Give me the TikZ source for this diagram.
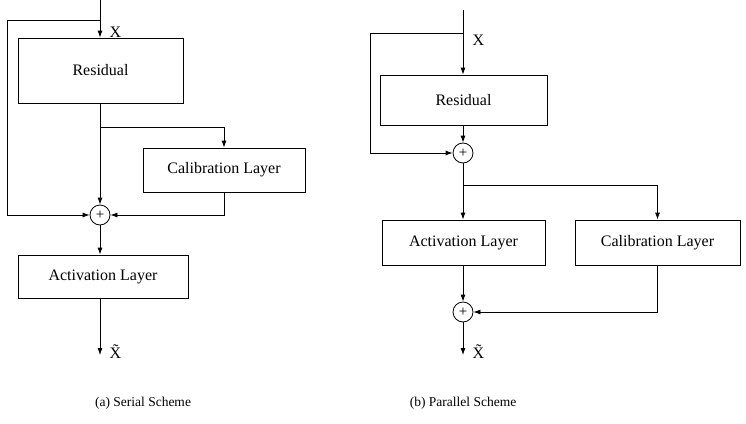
\documentclass[tikz,border=0pt]{standalone}
\usepackage{fontspec}
\setmainfont{Liberation Serif}
\usetikzlibrary{arrows.meta}
\begin{document}
\begin{tikzpicture}[x=1pt,y=-1pt,
  box/.style={draw,thick,minimum height=0pt,inner sep=0pt,font=\fontsize{16}{18}\selectfont},
  pl/.style={draw,thick,circle,minimum size=20pt,inner sep=0pt,font=\fontsize{15}{16}\selectfont},
  lab/.style={font=\fontsize{16}{18}\selectfont},
  captxt/.style={font=\fontsize{13.5}{15}\selectfont},
  arr/.style={thick,-{Latex[length=7pt,width=5pt]}},
  ln/.style={thick}]
\useasboundingbox (0,0) rectangle (746,423);
% left
\node[box,minimum width=165pt,minimum height=65pt] (r1) at (100.5,70.5) {Residual};
\node[box,minimum width=162pt,minimum height=44pt] (c1) at (224,170) {Calibration Layer};
\node[pl] (p1) at (100,215) {+};
\node[box,minimum width=170pt,minimum height=43pt] (a1) at (103,276.5) {Activation Layer};
\coordinate (t1) at (100,0);
\coordinate (o1) at (100,355);
\draw[arr] (t1) -- (r1.north -| t1);
\draw[arr] (r1.south -| t1) -- (p1.north);
\draw[arr] (100,127) -| (c1.north);
\draw[arr] (c1.south) |- (p1.east);
\draw[arr] (100,20) -- (7,20) |- (p1.west);
\draw[arr] (p1.south) -- (a1.north -| p1);
\draw[arr] (a1.south -| p1) -- (o1);
\node[lab,anchor=west] at (106,32) {X};
\node[lab,anchor=west] (xt1) at (106,352) {\~X};
\node[captxt] (cap1) at (143,403) {(a) Serial Scheme};
% right
\node[box,minimum width=167pt,minimum height=50pt] (r2) at (463.5,100) {Residual};
\node[pl] (p2) at (463,153) {+};
\node[box,minimum width=163pt,minimum height=45pt] (a2) at (463.5,242.5) {Activation Layer};
\node[box,minimum width=165pt,minimum height=45pt] (c2) at (657.5,242.5) {Calibration Layer};
\node[pl] (p3) at (463,312) {+};
\coordinate (t2) at (463,10);
\coordinate (o2) at (463,355);
\draw[arr] (t2) -- (r2.north -| t2);
\draw[arr] (r2.south -| t2) -- (p2.north);
\draw[arr] (463,33) -- (370,33) |- (p2.west);
\draw[arr] (p2.south) -- (a2.north -| p2);
\draw[arr] (463,185) -| (c2.north);
\draw[arr] (a2.south -| p2) -- (p3.north);
\draw[arr] (c2.south) |- (p3.east);
\draw[arr] (p3.south) -- (o2);
\node[lab,anchor=west] at (469,40) {X};
\node[lab,anchor=west] (xt2) at (469,352) {\~X};
\node[captxt] (cap2) at (463,403) {(b) Parallel Scheme};
\end{tikzpicture}
\end{document}
